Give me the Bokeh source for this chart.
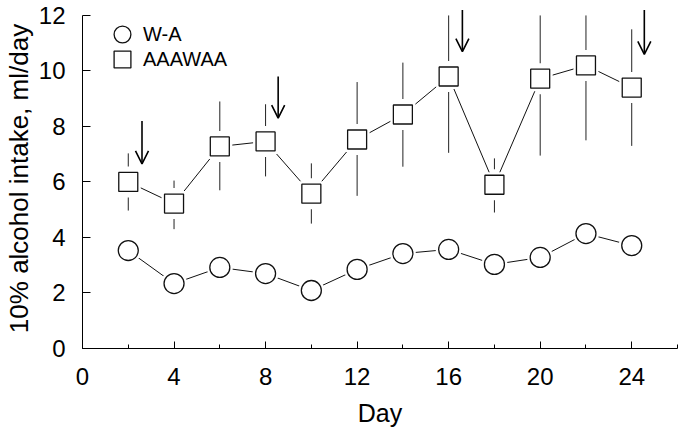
from bokeh.plotting import figure
from bokeh.models import (ColumnDataSource, Legend, LegendItem, Arrow, OpenHead,
                          SingleIntervalTicker, Range1d)
from bokeh.embed import file_html
from bokeh.resources import INLINE

# ---- data ----
days = [2, 4, 6, 8, 10, 12, 14, 16, 18, 20, 22, 24]
wa = [3.53, 2.34, 2.92, 2.70, 2.09, 2.85, 3.42, 3.57, 3.03, 3.28, 4.14, 3.71]
aaawaa = [6.0, 5.22, 7.28, 7.46, 5.58, 7.53, 8.43, 9.8, 5.9, 9.72, 10.2, 9.4]
aaawaa_upper = [7.03, 6.05, 8.9, 8.8, 6.67, 9.6, 10.3, 12.0, 6.85, 12.0, 12.0, 11.5]
aaawaa_lower = [4.97, 4.3, 5.7, 6.2, 4.5, 5.5, 6.55, 7.05, 4.9, 6.95, 7.5, 7.3]
arrow_x = [2.6, 8.55, 16.6, 24.55]
arrow_y_start = [8.2, 9.8, 12.2, 12.2]
arrow_y_end = [6.65, 8.3, 10.7, 10.6]
series_labels = ["W-A", "AAAWAA"]
x_label = "Day"
y_label = "10% alcohol intake, ml/day"

FONT = "Liberation Sans"

p = figure(width=682, height=436, output_backend="svg", toolbar_location=None,
           x_range=Range1d(0, 26), y_range=Range1d(0, 12.25),
           min_border_left=82, min_border_right=5, min_border_top=8,
           min_border_bottom=88)
p.outline_line_color = None
p.grid.visible = False
p.background_fill_color = "white"

src_a = ColumnDataSource(dict(x=days, y=aaawaa, lo=aaawaa_lower, hi=aaawaa_upper))
src_w = ColumnDataSource(dict(x=days, y=wa))

# error bars
p.segment(x0="x", y0="lo", x1="x", y1="hi", source=src_a, line_color="#222222", line_width=1)
# white gap around squares for error bars
p.rect(x="x", y="y", width=21, height=31, width_units="screen", height_units="screen",
       source=src_a, fill_color="white", line_color=None)
# connecting lines
p.line(x="x", y="y", source=src_a, line_color="#111111", line_width=1)
p.line(x="x", y="y", source=src_w, line_color="#111111", line_width=1)
# halos
p.scatter(x="x", y="y", source=src_a, marker="square", size=25, fill_color="white", line_color=None)
p.scatter(x="x", y="y", source=src_w, marker="circle", size=26, fill_color="white", line_color=None)
# markers
r_sq = p.scatter(x="x", y="y", source=src_a, marker="square", size=19,
                 fill_color="white", line_color="#111111", line_width=1.3)
r_ci = p.scatter(x="x", y="y", source=src_w, marker="circle", size=20,
                 fill_color="white", line_color="#111111", line_width=1.3)

# arrows
src_arr = ColumnDataSource(dict(x=arrow_x, y0=arrow_y_start, y1=arrow_y_end))
p.add_layout(Arrow(end=OpenHead(size=13, line_width=1.6, line_color="black"),
                   x_start="x", y_start="y0", x_end="x", y_end="y1", source=src_arr,
                   line_width=1.6, line_color="black"))

# axes
xa = p.xaxis[0]
xa.ticker = SingleIntervalTicker(interval=4, num_minor_ticks=2)
xa.bounds = (0, 26)
xa.axis_label = x_label
ya = p.yaxis[0]
ya.ticker = SingleIntervalTicker(interval=2, num_minor_ticks=0)
ya.bounds = (0, 12)
ya.axis_label = y_label
for ax in (xa, ya):
    ax.axis_line_color = "black"
    ax.axis_line_width = 1
    ax.major_tick_out = 0
    ax.minor_tick_out = 0
    ax.major_tick_line_color = "black"
    ax.minor_tick_line_color = "black"
    ax.major_label_text_font = FONT
    ax.major_label_text_font_size = "24px"
    ax.major_label_text_color = "black"
    ax.axis_label_text_font = FONT
    ax.axis_label_text_font_style = "normal"
    ax.axis_label_text_color = "black"
xa.major_tick_in = 7
xa.minor_tick_in = 4
xa.major_label_standoff = 19
xa.axis_label_text_font_size = "25px"
xa.axis_label_standoff = 11
ya.major_tick_in = 8
ya.major_label_standoff = 17
ya.axis_label_text_font_size = "26px"
ya.axis_label_standoff = 2

common = dict(glyph_width=42, glyph_height=42, label_standoff=0, padding=0, margin=0,
              border_line_color=None, background_fill_alpha=0,
              label_text_font=FONT, label_text_font_size="20px", label_text_color="black")
legend1 = Legend(items=[LegendItem(label=series_labels[0], renderers=[r_ci])],
                 location=(19, 293), **common)
legend2 = Legend(items=[LegendItem(label=series_labels[1], renderers=[r_sq])],
                 location=(19, 268), **common)
p.add_layout(legend1)
p.add_layout(legend2)

open("out.html", "w").write(file_html(p, INLINE))
